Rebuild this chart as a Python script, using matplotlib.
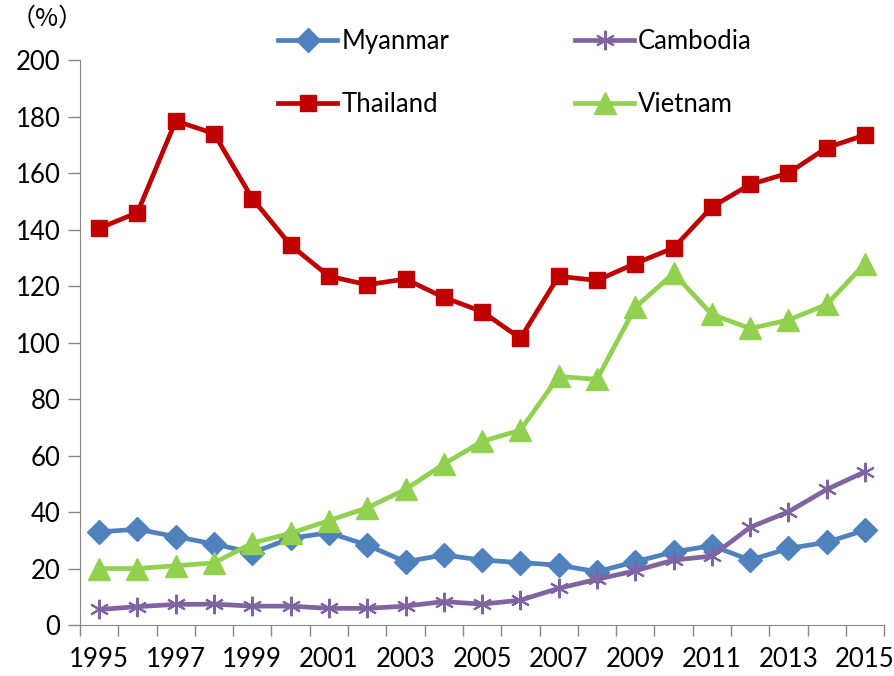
import numpy as np
import matplotlib.pyplot as plt

plt.rcParams['font.family'] = ['Lato', 'DejaVu Sans']

years = list(range(1995, 2016))
myanmar = [33.0, 33.9, 31.3, 28.7, 25.6, 30.7, 32.7, 28.3, 22.4, 24.8, 23.0,
           22.1, 21.2, 18.9, 22.4, 25.9, 28.1, 23.0, 27.1, 29.3, 33.6]
thailand = [140.5, 146, 178.5, 174, 151, 134.5, 123.5, 120.5, 122.5, 116, 111,
            101.5, 123.5, 122, 128, 133.5, 148, 156, 160, 169, 173.5]
cambodia = [5.5, 6.5, 7.3, 7.4, 6.7, 6.7, 5.9, 5.9, 6.7, 8.3, 7.4,
            8.8, 13.0, 16.2, 19.2, 23.0, 24.4, 34.6, 40.1, 48.0, 54.3]
vietnam = [20, 20, 21, 22, 29, 32.5, 37, 41.5, 48, 57, 65,
           69, 88, 87, 112.5, 124.5, 110, 105, 108, 113.5, 128]

fig = plt.figure(figsize=(8.94, 6.76), dpi=100)
ax = fig.add_axes([0.0895, 0.0754, 0.8995, 0.8356])

x = np.arange(len(years))
lw = 3.4
ax.plot(x, myanmar, color='#4F81BD', lw=lw, marker='D', ms=12, label='Myanmar')
ax.plot(x, thailand, color='#C00000', lw=lw, marker='s', ms=12, label='Thailand')
ax.plot(x, cambodia, color='#8064A2', lw=lw, marker=(6, 2, 0), ms=14, mew=1.5,
        label='Cambodia')
ax.plot(x, vietnam, color='#92D050', lw=lw, marker='^', ms=16, label='Vietnam')

ax.set_xlim(-0.5, len(years) - 0.5)
ax.set_ylim(0, 200)
ax.set_yticks(range(0, 201, 20))
ax.set_xticks(np.arange(-0.5, len(years), 1))
ax.set_xticklabels([])
ax.set_xticks(x[::2], minor=True)
ax.set_xticklabels([str(y) for y in years[::2]], minor=True)
ax.tick_params(axis='x', which='major', length=8, color='#868686', width=1)
ax.tick_params(axis='x', which='minor', length=0, pad=16, labelsize=18.5)
ax.tick_params(axis='y', length=9, color='#868686', width=1, labelsize=18.5, pad=5)

for s in ['top', 'right']:
    ax.spines[s].set_visible(False)
for s in ['left', 'bottom']:
    ax.spines[s].set_color('#868686')

fig.text(0.012, 0.972, '（%）', fontsize=18, family=['Noto Sans CJK JP', 'DejaVu Sans'],
         va='center', ha='left')

fig.legend(loc='center', bbox_to_anchor=(0.576, 0.892), ncol=2, frameon=False,
           fontsize=18.5, handlelength=2.3, labelspacing=1.45, columnspacing=4.9,
           handletextpad=0.15)

fig.savefig('out.png', dpi=100)
